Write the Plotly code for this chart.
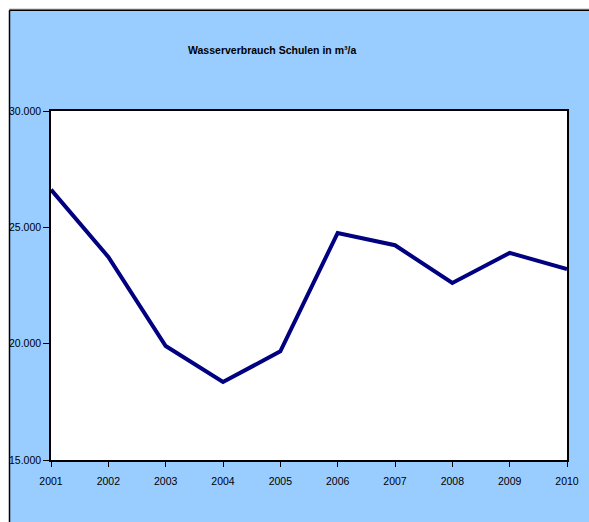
import plotly.graph_objects as go

years = [2001, 2002, 2003, 2004, 2005, 2006, 2007, 2008, 2009, 2010]
consumption = [26620, 23730, 19900, 18350, 19670, 24760, 24230, 22610, 23900, 23210]
y_ticks = [15000, 20000, 25000, 30000]
title_text = "Wasserverbrauch Schulen in m³/a"

W, H = 589, 522
L, R, T, B = 51, 22, 111, 62
pw, ph = W - L - R, H - T - B

def px_x(px):
    return (px - L) / pw

def px_y(py):
    return (H - B - py) / ph

FONT = "Liberation Sans, Arial, sans-serif"

fig = go.Figure()
fig.add_trace(go.Scatter(
    x=years, y=consumption, mode="lines",
    line=dict(color="#000080", width=4),
    cliponaxis=False, hoverinfo="x+y",
))

shapes = [
    dict(type="rect", xref="paper", yref="paper", x0=px_x(-5), x1=px_x(9), y0=px_y(H + 5), y1=px_y(-5),
         fillcolor="white", line=dict(width=0), layer="above"),
    dict(type="rect", xref="paper", yref="paper", x0=px_x(-5), x1=px_x(W + 5), y0=px_y(9.5), y1=px_y(-5),
         fillcolor="white", line=dict(width=0), layer="above"),
    dict(type="line", xref="paper", yref="paper", x0=px_x(9), x1=px_x(W + 5), y0=px_y(9), y1=px_y(9),
         line=dict(color="#bbbbbb", width=1), layer="above"),
    dict(type="line", xref="paper", yref="paper", x0=px_x(9.5), x1=px_x(W + 5), y0=px_y(10.3), y1=px_y(10.3),
         line=dict(color="black", width=1.5), layer="above"),
    dict(type="line", xref="paper", yref="paper", x0=px_x(9.5), x1=px_x(9.5), y0=px_y(10.3), y1=px_y(H + 5),
         line=dict(color="black", width=1.5), layer="above"),
]

fig.update_layout(
    width=W, height=H,
    margin=dict(l=L, r=R, t=T, b=B, pad=0, autoexpand=False),
    paper_bgcolor="#99CCFF",
    plot_bgcolor="white",
    separators=",.",
    showlegend=False,
    shapes=shapes,
    annotations=[dict(
        text="<b>" + title_text + "</b>", xref="paper", yref="paper",
        x=px_x(272), y=px_y(50), xanchor="center", yanchor="middle",
        showarrow=False, font=dict(family=FONT, size=10.5, color="black"),
    )],
    xaxis=dict(
        range=[2001, 2010], tickmode="array", tickvals=years, ticktext=[str(y) for y in years],
        showgrid=False, zeroline=False, showline=True, linecolor="black", linewidth=1.5, mirror=True,
        ticks="outside", ticklen=5, tickcolor="black", tickwidth=1, automargin=False,
        ticklabelstandoff=6,
        tickfont=dict(family=FONT, size=10.5, color="black"),
    ),
    yaxis=dict(
        range=[15000, 30000], tickmode="array", tickvals=y_ticks, tickformat=",.0f",
        showgrid=False, zeroline=False, showline=True, linecolor="black", linewidth=1.5, mirror=True,
        ticks="outside", ticklen=6, tickcolor="black", tickwidth=1, automargin=False,
        tickfont=dict(family=FONT, size=10.5, color="black"),
    ),
)

fig.write_html(
    "out.html",
    config={"displayModeBar": False},
    post_script="document.body.style.margin='0';document.documentElement.style.overflow='hidden';",
)
